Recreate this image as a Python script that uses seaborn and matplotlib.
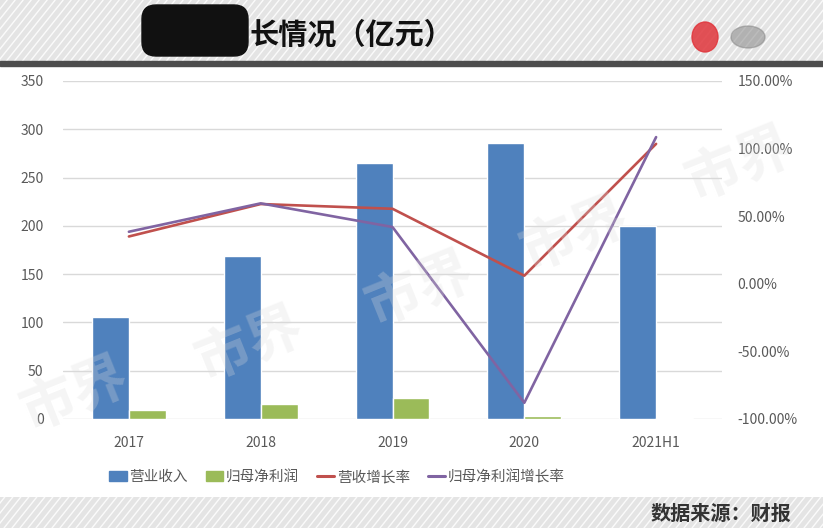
import numpy as np
import pandas as pd
import matplotlib
matplotlib.use("Agg")
import matplotlib.pyplot as plt
import seaborn as sns
from matplotlib.lines import Line2D
from matplotlib.patches import Patch, FancyBboxPatch, Ellipse

# ── data ────────────────────────────────────────────────────
periods = ["2017", "2018", "2019", "2020", "2021H1"]
revenue = [105.5, 168.7, 265.5, 285.7, 200]         # 营业收入 (亿元)
net_profit = [9.5, 15.5, 21.7, 3.0, 1.0]           # 归母净利润 (亿元)
revenue_growth = [35.0, 59.0, 55.5, 6.0, 103.5]     # 营收增长率 (%)
profit_growth = [38.5, 59.5, 42.0, -88.0, 108.5]    # 归母净利润增长率 (%)

left_ticks = [0, 50, 100, 150, 200, 250, 300, 350]
right_ticks = [-100, -50, 0, 50, 100, 150]

BLUE, GREEN, RED, PURPLE = "#4F81BD", "#9BBB59", "#C0504D", "#8064A2"
TXT = "#595959"

sns.set_theme(style="white")
plt.rcParams["font.family"] = ["Noto Sans CJK SC", "DejaVu Sans"]

W, H = 823, 528
fig = plt.figure(figsize=(W / 100, H / 100), dpi=100)
fig.patch.set_facecolor("white")


def striped_band(y0, y1):
    bax = fig.add_axes([0, y0 / H, 1, (y1 - y0) / H])
    bax.set_xlim(0, W)
    bax.set_ylim(y0, y1)
    bax.set_facecolor("#e6e6e6")
    for x in np.arange(-100, W + 100, 8):
        bax.plot([x, x + (y1 - y0) * 0.8], [y0, y1], color="white", lw=1.0, alpha=0.85, zorder=1)
    bax.axis("off")
    bax.add_patch(plt.Rectangle((0, y0), W, y1 - y0, color="#e4e4e4", zorder=0))
    return bax


# header band (pixel coordinates, y measured upward)
hdr = striped_band(H - 64, H)
hdr.add_patch(plt.Rectangle((0, H - 66), W, 5, color="#4d4d4d", clip_on=False, zorder=5))
hdr.add_patch(FancyBboxPatch((142, H - 56), 106, 51, boxstyle="round,pad=0,rounding_size=14",
                             color="#111111", zorder=5))
hdr.add_patch(Ellipse((705, H - 37), 26, 30, color="#e0353b", alpha=0.85, zorder=5))
hdr.add_patch(Ellipse((748, H - 37), 34, 22, color="#888888", alpha=0.55, zorder=5))
hdr.text(250, H - 35, "长情况（亿元）", fontsize=21, fontweight="bold",
         color="#111111", va="center", ha="left", zorder=6)

# footer band
ftr = striped_band(0, 31)
ftr.text(791, 15, "数据来源：财报", fontsize=14.5, fontweight="bold",
         color="#333333", va="center", ha="right", zorder=6)

# ── main chart ──────────────────────────────────────────────
ax = fig.add_axes([63 / W, 109 / H, (722 - 63) / W, 338 / H])
bars = pd.DataFrame({
    "period": periods * 2,
    "value": revenue + net_profit,
    "series": ["营业收入"] * len(periods) + ["归母净利润"] * len(periods),
})
sns.barplot(data=bars, x="period", y="value", hue="series", order=periods,
            palette=[BLUE, GREEN], width=0.56, saturation=1, ax=ax, legend=False)
ax.set_ylim(0, 350)
ax.set_xlim(-0.5, len(periods) - 0.5)
ax.set_yticks(left_ticks)
ax.yaxis.grid(True, color="#d9d9d9", lw=1)
ax.set_axisbelow(True)
ax.set_xlabel("")
ax.set_ylabel("")
for s in ax.spines.values():
    s.set_visible(False)
ax.tick_params(axis="y", length=0, pad=14, labelsize=10, labelcolor=TXT)
ax.tick_params(axis="x", length=0, pad=12, labelsize=10, labelcolor=TXT)

ax2 = ax.twinx()
lines = pd.DataFrame({
    "period": periods * 2,
    "rate": revenue_growth + profit_growth,
    "series": ["营收增长率"] * len(periods) + ["归母净利润增长率"] * len(periods),
})
sns.lineplot(data=lines, x="period", y="rate", hue="series", palette=[RED, PURPLE],
             lw=1.9, sort=False, ax=ax2, legend=False)
ax2.set_ylim(-100, 150)
ax2.set_yticks(right_ticks)
ax2.set_yticklabels([f"{t:.2f}%" for t in right_ticks])
ax2.set_xlim(-0.5, len(periods) - 0.5)
ax2.set_ylabel("")
for s in ax2.spines.values():
    s.set_visible(False)
ax2.tick_params(axis="y", length=0, pad=11, labelsize=10, labelcolor=TXT)

# faint watermark "市界" running diagonally across the plot
for (x, y) in [(75, 395), (250, 345), (420, 290), (575, 235), (740, 165)]:
    fig.text(x / W, 1 - y / H, "市界", fontsize=40, fontweight="bold",
             color="#dcdcdc", alpha=0.28, rotation=22, ha="center", va="center", zorder=3)

handles = [
    Patch(color=BLUE), Patch(color=GREEN),
    Line2D([], [], color=RED, lw=2.2), Line2D([], [], color=PURPLE, lw=2.2),
]
fig.legend(handles, ["营业收入", "归母净利润", "营收增长率", "归母净利润增长率"],
           loc="center left", bbox_to_anchor=(96 / W, 51 / H), ncol=4, frameon=False,
           fontsize=10.5, labelcolor=TXT, handlelength=1.2, handletextpad=0.2,
           columnspacing=1.2)

fig.savefig("out.png", dpi=100)
